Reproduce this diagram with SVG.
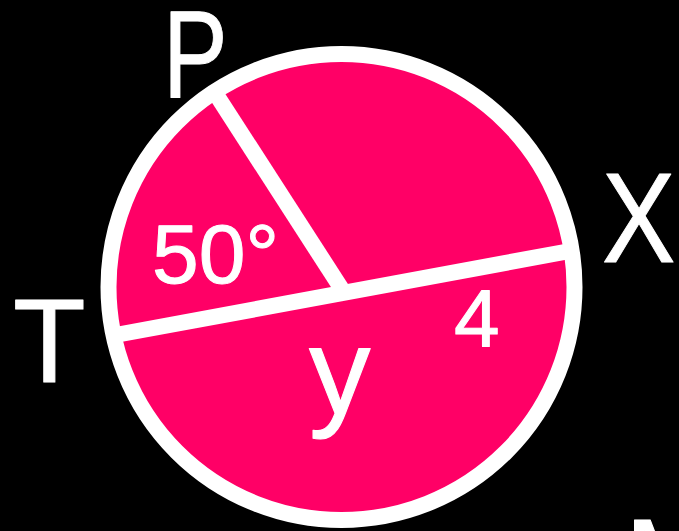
<svg xmlns="http://www.w3.org/2000/svg" width="679" height="531" viewBox="0 0 679 531">
  <style>
    .lbl { font-family: "Liberation Sans", "DejaVu Sans", sans-serif; fill: #ffffff; stroke: #ffffff; stroke-linejoin: round; stroke-width: 1; }
    .line { stroke: #ffffff; stroke-width: 16; fill: none; }
  </style>
  <rect x="0" y="0" width="679" height="531" fill="#000000"/>
  <g id="circle">
    <circle cx="341.5" cy="287" r="233" fill="#ff0066" stroke="#ffffff" stroke-width="16"/>
  </g>
  <g id="lines">
    <line class="line" x1="110" y1="336" x2="570" y2="251"/>
    <line class="line" x1="212" y1="88" x2="343" y2="291"/>
  </g>
  <g id="labels">
    <text class="lbl" x="0" y="0" font-size="124" transform="translate(163,97) scale(0.78,1)">P</text>
    <text class="lbl" x="13" y="382" font-size="119">T</text>
    <text class="lbl" x="0" y="0" font-size="128" transform="translate(602,262) scale(0.86,1)">X</text>
    <text class="lbl" x="152" y="283" font-size="84">50°</text>
    <text class="lbl" x="454" y="347" font-size="82">4</text>
    <text class="lbl" x="309" y="414" font-size="123">y</text>
    <text class="lbl" x="624" y="608" font-size="128">M</text>
  </g>
</svg>
